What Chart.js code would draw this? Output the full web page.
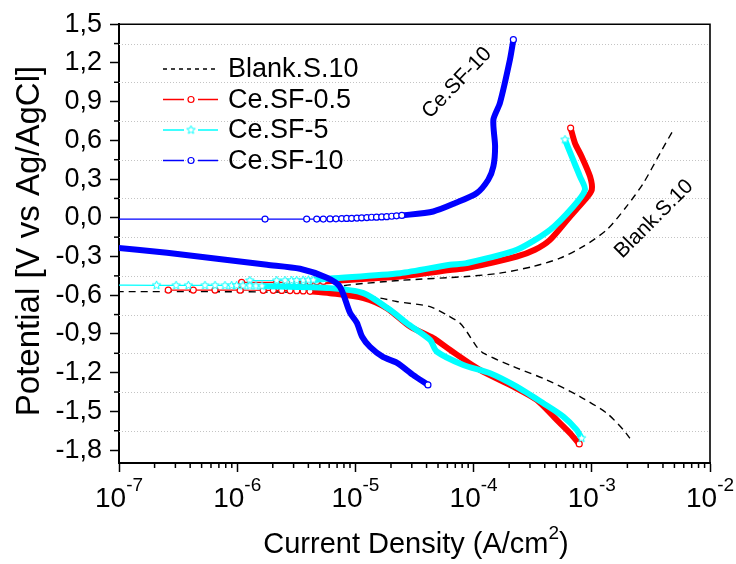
<!DOCTYPE html>
<html>
<head>
<meta charset="utf-8">
<script src="https://cdn.jsdelivr.net/npm/chart.js@4.4.0/dist/chart.umd.min.js"></script>
<style>
  html, body { margin: 0; padding: 0; background: #fff; }
</style>
</head>
<body>
<canvas id="tafel" width="736" height="564"></canvas>
<script>
// points are [current density (A/cm2), potential (V)], each branch from Ecorr outward
const blankCathodic = [[6e-8,-0.572],[1e-6,-0.573],[5e-6,-0.58],[9e-6,-0.595],[1.62e-5,-0.622],[2.23e-5,-0.649],
  [4.28e-5,-0.688],[5.92e-5,-0.752],[7.67e-5,-0.816],[8.73e-5,-0.881],[1.06e-4,-0.998],[1.21e-4,-1.049],
  [2.17e-4,-1.153],[4.15e-4,-1.256],[7.94e-4,-1.385],[1.34e-3,-1.514],[1.85e-3,-1.643],[2.1e-3,-1.708]];
const blankAnodic = [[4e-6,-0.572],[9e-6,-0.52],[2.4e-5,-0.485],[8.73e-5,-0.455],[1.67e-4,-0.429],[3.2e-4,-0.377],
  [5.38e-4,-0.313],[8.47e-4,-0.222],[1.34e-3,-0.093],[1.97e-3,0.088],[2.73e-3,0.268],[3.78e-3,0.50],[4.9e-3,0.682]];

const sf05Cathodic = [[2.61e-7,-0.56],[4.25e-7,-0.56],[6.49e-7,-0.56],[1.06e-6,-0.561],[1.66e-6,-0.562],[2.02e-6,-0.562],
  [2.38e-6,-0.563],[2.8e-6,-0.564],[3.19e-6,-0.565],[3.62e-6,-0.567],[4.13e-6,-0.57],[6.1e-6,-0.584],[1.17e-5,-0.622],
  [1.84e-5,-0.70],[2.9e-5,-0.843],[4.56e-5,-0.933],[6.3e-5,-1.023],[1.13e-4,-1.178],[2.17e-4,-1.308],[3.42e-4,-1.411],
  [5.05e-4,-1.566],[6.55e-4,-1.669],[7.83e-4,-1.752]];
const sf05Anodic = [[1.09e-6,-0.50],[2.16e-6,-0.50],[2.62e-6,-0.50],[3.19e-6,-0.499],[3.62e-6,-0.498],[4.13e-6,-0.497],
  [4.71e-6,-0.495],[5.35e-6,-0.493],[1.0e-5,-0.478],[2.38e-5,-0.455],[6.3e-5,-0.405],[8.73e-5,-0.39],[2.32e-4,-0.30],
  [3.3e-4,-0.248],[4.43e-4,-0.171],[6.55e-4,0.01],[8.75e-4,0.14],[1.0e-3,0.217],[9.66e-4,0.32],[8.2e-4,0.475],
  [7.2e-4,0.579],[6.62e-4,0.695]];

const sf5Cathodic = [[6e-8,-0.52],[2.08e-7,-0.523],[3.04e-7,-0.524],[3.86e-7,-0.524],[5.34e-7,-0.524],[6.49e-7,-0.524],
  [7.88e-7,-0.525],[8.98e-7,-0.525],[9.9e-7,-0.525],[1.12e-6,-0.526],[1.28e-6,-0.527],[1.44e-6,-0.528],[1.62e-6,-0.529],
  [6.1e-6,-0.545],[1.17e-5,-0.584],[1.96e-5,-0.713],[2.72e-5,-0.816],[4.28e-5,-0.946],[4.87e-5,-1.036],[8.18e-5,-1.14],
  [1.38e-4,-1.204],[2.32e-4,-1.308],[3.89e-4,-1.437],[5.74e-4,-1.54],[7.45e-4,-1.643],[8.2e-4,-1.708]];
const sf5Anodic = [[1.28e-6,-0.486],[2.16e-6,-0.486],[2.54e-6,-0.486],[2.89e-6,-0.486],[3.19e-6,-0.485],[3.62e-6,-0.484],
  [4.0e-6,-0.483],[4.4e-6,-0.482],[6.1e-6,-0.47],[2.38e-5,-0.429],[6.3e-5,-0.364],[8.73e-5,-0.351],[2.32e-4,-0.248],
  [4.43e-4,-0.093],[6.98e-4,0.088],[8.75e-4,0.217],[7.94e-4,0.32],[6.76e-4,0.475],[5.93e-4,0.605]];

const sf10Cathodic = [[8e-8,-0.225],[2.55e-7,-0.271],[6.75e-7,-0.318],[1.79e-6,-0.364],[3.4e-6,-0.395],[5.75e-6,-0.465],
  [7.4e-6,-0.535],[9.0e-6,-0.736],[1.03e-5,-0.814],[1.14e-5,-0.922],[1.33e-5,-1.0],[1.71e-5,-1.078],[2.25e-5,-1.124],
  [3.07e-5,-1.217],[4.11e-5,-1.295]];
const sf10Anodic = [[6e-8,-0.01],[1.72e-6,-0.01],[3.87e-6,-0.01],[4.71e-6,-0.01],[5.35e-6,-0.01],[6.1e-6,-0.009],
  [6.85e-6,-0.008],[7.66e-6,-0.006],[8.44e-6,-0.005],[9.3e-6,-0.004],[1.03e-5,-0.002],[1.13e-5,0.0],[1.25e-5,0.002],
  [1.37e-5,0.004],[1.51e-5,0.005],[1.67e-5,0.007],[1.84e-5,0.009],[2.03e-5,0.012],[2.23e-5,0.015],[2.47e-5,0.018],
  [4.56e-5,0.049],[7.0e-5,0.114],[1.06e-4,0.19],[1.33e-4,0.295],[1.47e-4,0.398],[1.52e-4,0.553],[1.47e-4,0.76],
  [1.67e-4,0.889],[2.03e-4,1.225],[2.17e-4,1.38]];

const seriesNames = ['Blank.S.10', 'Ce.SF-0.5', 'Ce.SF-5', 'Ce.SF-10'];
const xTicks = [1e-7, 1e-6, 1e-5, 1e-4, 1e-3, 1e-2];
const yTicks = [-1.8, -1.5, -1.2, -0.9, -0.6, -0.3, 0.0, 0.3, 0.6, 0.9, 1.2, 1.5];
const yMinor = [-1.65, -1.35, -1.05, -0.75, -0.45, -0.15, 0.15, 0.45, 0.75, 1.05, 1.35];

const FONT = '"Liberation Sans", Arial, sans-serif';
const colors = ['#000000', '#ff0000', '#00ffff', '#0000ff'];

// hollow 5-point star used by Ce.SF-5
function makeStar(color) {
  const c = document.createElement('canvas');
  c.width = 11; c.height = 11;
  const g = c.getContext('2d');
  g.beginPath();
  for (let i = 0; i < 10; i++) {
    const r = i % 2 ? 2 : 4.4;
    const a = -Math.PI / 2 + i * Math.PI / 5;
    g.lineTo(5.5 + r * Math.cos(a), 5.5 + r * Math.sin(a));
  }
  g.closePath();
  g.fillStyle = '#fff'; g.fill();
  g.strokeStyle = color; g.lineWidth = 1; g.stroke();
  return c;
}
const star = makeStar('#00ffff');

const toXY = arr => arr.map(p => ({x: p[0], y: p[1]}));

// sparse part (below `sparse` current) drawn thin with markers, rest as thick band
function branch(data, color, sparse, marker, order) {
  const n = data.length;
  const shown = ctx => ctx.parsed && (ctx.parsed.x <= sparse || ctx.dataIndex === n - 1);
  return {
    data: toXY(data), showLine: true, order: order, clip: 0,
    borderColor: color, borderWidth: 6, tension: 0.25,
    pointRadius: ctx => shown(ctx) ? 3 : 0,
    pointStyle: marker,
    pointBorderColor: color, pointBackgroundColor: '#fff', pointBorderWidth: 1.2,
    segment: { borderWidth: ctx => ctx.p1.parsed.x <= sparse ? 1.2 : 6 }
  };
}
function dashed(data) {
  return {
    data: toXY(data), showLine: true, order: 4, clip: 0,
    borderColor: '#000', borderWidth: 1.4, borderDash: [7, 5], tension: 0.25, pointRadius: 0
  };
}

const decor = {
  id: 'decor',
  beforeDatasetsDraw(chart) {
    const {ctx, chartArea: a, scales: {x, y}} = chart;
    ctx.save();
    // dotted grid on the minor positions
    ctx.strokeStyle = '#c4c4c4'; ctx.lineWidth = 1; ctx.setLineDash([1, 2]);
    yMinor.forEach(v => {
      const py = Math.round(y.getPixelForValue(v)) + 0.5;
      ctx.beginPath(); ctx.moveTo(a.left, py); ctx.lineTo(a.right, py); ctx.stroke();
    });
    ctx.setLineDash([]);
    ctx.strokeStyle = '#000'; ctx.lineWidth = 1.5;
    yMinor.forEach(v => {
      const py = y.getPixelForValue(v);
      ctx.beginPath(); ctx.moveTo(a.left - 5, py); ctx.lineTo(a.left, py); ctx.stroke();
    });
    for (let d = 0; d < xTicks.length - 1; d++) {
      for (let m = 2; m <= 9; m++) {
        const px = x.getPixelForValue(xTicks[d] * m);
        ctx.beginPath(); ctx.moveTo(px, a.bottom); ctx.lineTo(px, a.bottom + 5); ctx.stroke();
      }
    }
    ctx.restore();
  },
  afterDraw(chart) {
    const {ctx, chartArea: a, scales: {x}} = chart;
    ctx.save();
    // top and right frame
    ctx.strokeStyle = '#000'; ctx.lineWidth = 1.6;
    ctx.beginPath(); ctx.moveTo(a.left, a.top); ctx.lineTo(a.right, a.top); ctx.lineTo(a.right, a.bottom); ctx.stroke();

    // x tick labels 10^n
    ctx.fillStyle = '#000'; ctx.textBaseline = 'alphabetic'; ctx.textAlign = 'left';
    xTicks.forEach(v => {
      const px = x.getPixelForValue(v);
      const exp = String(Math.round(Math.log10(v)));
      ctx.font = '28px ' + FONT;
      const wb = ctx.measureText('10').width;
      ctx.font = '19px ' + FONT;
      const we = ctx.measureText(exp).width;
      const x0 = px - (wb + we) / 2;
      ctx.font = '28px ' + FONT;
      ctx.fillText('10', x0, 507);
      ctx.font = '19px ' + FONT;
      ctx.fillText(exp, x0 + wb, 491);
    });

    // x axis title with superscript
    const parts = [['Current Density (A/cm', 29, 553], ['2', 19, 539], [')', 29, 553]];
    let total = 0;
    parts.forEach(p => { ctx.font = p[1] + 'px ' + FONT; total += ctx.measureText(p[0]).width; });
    let cx = 416 - total / 2;
    parts.forEach(p => {
      ctx.font = p[1] + 'px ' + FONT;
      ctx.fillText(p[0], cx, p[2]);
      cx += ctx.measureText(p[0]).width;
    });

    // y axis title
    ctx.save();
    ctx.font = '33px ' + FONT;
    ctx.translate(39, 241); ctx.rotate(-Math.PI / 2);
    ctx.textAlign = 'center';
    ctx.fillText('Potential [V vs Ag/AgCl]', 0, 0);
    ctx.restore();

    // legend
    ctx.font = '27px ' + FONT; ctx.textBaseline = 'middle'; ctx.textAlign = 'left';
    seriesNames.forEach((name, i) => {
      const ly = 69 + i * 30.5;
      ctx.strokeStyle = colors[i]; ctx.lineWidth = 1.4;
      if (i === 0) {
        ctx.setLineDash([4, 4]);
        ctx.beginPath(); ctx.moveTo(163, ly); ctx.lineTo(218, ly); ctx.stroke();
        ctx.setLineDash([]);
      } else {
        ctx.beginPath(); ctx.moveTo(163, ly); ctx.lineTo(184, ly); ctx.moveTo(198, ly); ctx.lineTo(218, ly); ctx.stroke();
        if (i === 2) {
          ctx.drawImage(star, 191 - 5.5, ly - 5.5);
        } else {
          ctx.lineWidth = 1.2;
          ctx.beginPath(); ctx.arc(191, ly, 3, 0, Math.PI * 2); ctx.stroke();
        }
      }
      ctx.fillStyle = '#000';
      ctx.fillText(name, 228, ly + 1);
    });

    // curve labels
    ctx.font = '21px ' + FONT; ctx.textAlign = 'center';
    ctx.save(); ctx.translate(457, 83); ctx.rotate(-46 * Math.PI / 180);
    ctx.fillText('Ce.SF-10', 0, 0); ctx.restore();
    ctx.save(); ctx.translate(654, 219); ctx.rotate(-45 * Math.PI / 180);
    ctx.fillText('Blank.S.10', 0, 0); ctx.restore();
    ctx.restore();
  }
};

new Chart(document.getElementById('tafel'), {
  type: 'scatter',
  data: {
    datasets: [
      dashed(blankCathodic), dashed(blankAnodic),
      branch(sf05Cathodic, colors[1], 4.2e-6, 'circle', 3),
      branch(sf05Anodic, colors[1], 5.4e-6, 'circle', 3),
      branch(sf5Cathodic, colors[2], 1.7e-6, star, 2),
      branch(sf5Anodic, colors[2], 4.5e-6, star, 2),
      branch(sf10Cathodic, colors[3], 0, 'circle', 1),
      branch(sf10Anodic, colors[3], 2.5e-5, 'circle', 1)
    ]
  },
  options: {
    responsive: false,
    animation: false,
    layout: { padding: { top: 24, right: 26, left: 0, bottom: 0 } },
    plugins: { legend: { display: false }, tooltip: { enabled: false } },
    scales: {
      x: {
        type: 'logarithmic', min: 1e-7, max: 1e-2,
        afterBuildTicks: s => { s.ticks = xTicks.map(v => ({value: v})); },
        afterFit: s => { s.height = 101; },
        ticks: { display: false },
        grid: { drawOnChartArea: false, tickLength: 9, tickWidth: 1.5, tickColor: '#000' },
        border: { color: '#000', width: 2 }
      },
      y: {
        min: -1.9, max: 1.5,
        afterBuildTicks: s => { s.ticks = yTicks.map(v => ({value: v})); },
        afterFit: s => { s.width = 119; },
        ticks: {
          color: '#000', padding: 8, font: { family: FONT, size: 27 },
          callback: v => v.toFixed(1).replace('.', ',')
        },
        grid: { drawOnChartArea: false, tickLength: 9, tickWidth: 1.5, tickColor: '#000' },
        border: { color: '#000', width: 2 }
      }
    }
  },
  plugins: [decor]
});
</script>
</body>
</html>
